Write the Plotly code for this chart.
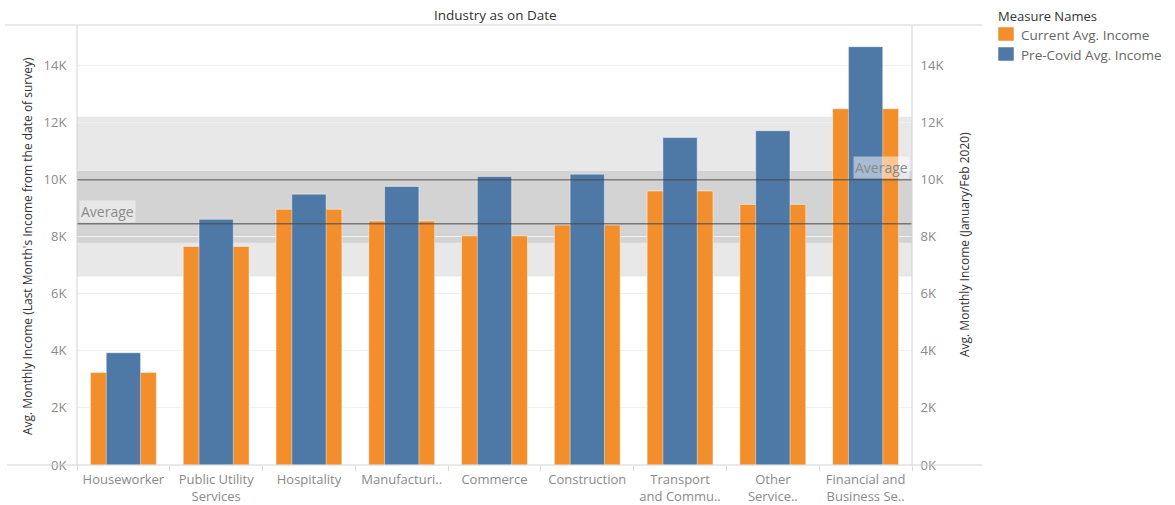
import numpy as np
import plotly.graph_objects as go

# Industries and their average monthly incomes
industries = [
    "Houseworker", "Public Utility<br>Services", "Hospitality", "Manufacturi..",
    "Commerce", "Construction", "Transport<br>and Commu..", "Other<br>Service..",
    "Financial and<br>Business Se..",
]
current_income = [3240, 7650, 8950, 8540, 8020, 8400, 9590, 9120, 12470]
precovid_income = [3930, 8600, 9480, 9750, 10100, 10180, 11460, 11700, 14640]
y_tickvals = [0, 2000, 4000, 6000, 8000, 10000, 12000, 14000]
y_ticktext = ["0K", "2K", "4K", "6K", "8K", "10K", "12K", "14K"]

ORANGE = "#F28E2B"
BLUE = "#4E79A7"
FONT = "Open Sans"
GREY_TXT = "#8a8a8a"
DARK_TXT = "#333333"

W, H = 1175, 505
L, R, T, B = 77, 912, 25, 465
Y_MAX = 15400


def px_x(px):
    return (px - L) / (R - L)


def px_y(py):
    return (B - py) / (B - T)


def mean_ci(vals, t=2.306):
    a = np.asarray(vals, dtype=float)
    m = a.mean()
    half = t * a.std(ddof=1) / np.sqrt(len(a))
    return m, m - half, m + half


cur_avg, cur_lo, cur_hi = mean_ci(current_income)
pre_avg, pre_lo, pre_hi = mean_ci(precovid_income)

fig = go.Figure()
fig.add_trace(go.Bar(
    x=industries, y=current_income, name="Current Avg. Income",
    marker=dict(color=ORANGE, line=dict(color="rgba(255,255,255,0.45)", width=1)),
    width=0.71, yaxis="y",
))
fig.add_trace(go.Bar(
    x=industries, y=precovid_income, name="Pre-Covid Avg. Income",
    marker=dict(color=BLUE, line=dict(color="rgba(255,255,255,0.45)", width=1)),
    width=0.37, yaxis="y2",
))

shapes = []
# 95% confidence bands behind the bars
shapes.append(dict(type="rect", xref="paper", yref="y", x0=0, x1=1, y0=cur_lo, y1=cur_hi,
                   fillcolor="rgba(0,0,0,0.09)", line=dict(width=0), layer="below"))
shapes.append(dict(type="rect", xref="paper", yref="y2", x0=0, x1=1, y0=pre_lo, y1=pre_hi,
                   fillcolor="rgba(0,0,0,0.09)", line=dict(width=0), layer="below"))
# average lines
shapes.append(dict(type="line", xref="paper", yref="y", x0=0, x1=1, y0=cur_avg, y1=cur_avg,
                   line=dict(color="rgba(70,70,70,0.65)", width=1.6), layer="above"))
shapes.append(dict(type="line", xref="paper", yref="y2", x0=0, x1=1, y0=pre_avg, y1=pre_avg,
                   line=dict(color="rgba(70,70,70,0.65)", width=1.6), layer="above"))
# frame lines
frame = "#d3d3d3"
shapes.append(dict(type="line", xref="paper", yref="paper", x0=px_x(5), x1=px_x(982), y0=1, y1=1,
                   line=dict(color=frame, width=1)))
shapes.append(dict(type="line", xref="paper", yref="paper", x0=px_x(7), x1=px_x(982), y0=0, y1=0,
                   line=dict(color=frame, width=1)))
shapes.append(dict(type="line", xref="paper", yref="paper", x0=0, x1=0, y0=0, y1=1,
                   line=dict(color=frame, width=1)))
shapes.append(dict(type="line", xref="paper", yref="paper", x0=1, x1=1, y0=0, y1=1,
                   line=dict(color=frame, width=1)))
# legend swatches
for i, col in enumerate([ORANGE, BLUE]):
    top = 27 + i * 20
    shapes.append(dict(type="rect", xref="paper", yref="paper",
                       x0=px_x(998), x1=px_x(1014), y0=px_y(top + 14), y1=px_y(top),
                       fillcolor=col, line=dict(color="rgba(255,255,255,0.5)", width=1)))

annotations = [
    dict(text="Industry as on Date", xref="paper", yref="paper", x=px_x(495), y=px_y(15),
         xanchor="center", yanchor="middle",
         showarrow=False, font=dict(family=FONT, size=13.5, color=DARK_TXT)),
    dict(text="Avg. Monthly Income (Last Month's Income from the date of survey)",
         xref="paper", yref="paper", x=px_x(28), y=px_y(246), textangle=-90,
         xanchor="center", yanchor="middle",
         showarrow=False, font=dict(family=FONT, size=12, color=DARK_TXT)),
    dict(text="Avg. Monthly Income (January/Feb 2020)",
         xref="paper", yref="paper", x=px_x(965), y=px_y(244), textangle=-90,
         xanchor="center", yanchor="middle",
         showarrow=False, font=dict(family=FONT, size=12, color=DARK_TXT)),
    dict(text="Average", xref="paper", yref="y", x=0.002, y=cur_avg, xanchor="left", yanchor="bottom",
         yshift=1, showarrow=False, bgcolor="rgba(255,255,255,0.45)", borderpad=1,
         font=dict(family=FONT, size=14, color=GREY_TXT)),
    dict(text="Average", xref="paper", yref="y2", x=0.998, y=pre_avg, xanchor="right", yanchor="bottom",
         yshift=1, showarrow=False, bgcolor="rgba(255,255,255,0.5)", borderpad=1,
         font=dict(family=FONT, size=14, color=GREY_TXT)),
    dict(text="Measure Names", xref="paper", yref="paper", x=px_x(996), y=px_y(16),
         xanchor="left", yanchor="middle", showarrow=False,
         font=dict(family=FONT, size=13, color=DARK_TXT)),
]
for i, name in enumerate(["Current Avg. Income", "Pre-Covid Avg. Income"]):
    annotations.append(dict(text=name, xref="paper", yref="paper", x=px_x(1019), y=px_y(35 + i * 20),
                            xanchor="left", yanchor="middle", showarrow=False,
                            font=dict(family=FONT, size=13.5, color="#666666")))

fig.update_layout(
    width=W, height=H,
    margin=dict(l=L, r=W - R, t=T, b=H - B, pad=0, autoexpand=False),
    paper_bgcolor="white", plot_bgcolor="white",
    barmode="overlay", showlegend=False,
    font=dict(family=FONT, color=GREY_TXT),
    xaxis=dict(type="category", range=[-0.5, 8.5], showgrid=False, zeroline=False, showline=False,
               ticks="outside", tickson="boundaries", ticklen=5, tickcolor="#dcdcdc",
               ticklabelstandoff=5, automargin=False,
               tickfont=dict(family=FONT, size=13, color=GREY_TXT)),
    yaxis=dict(range=[0, Y_MAX], tickvals=y_tickvals, ticktext=y_ticktext, automargin=False,
               showgrid=True, gridcolor="#f0f0f0", gridwidth=1, zeroline=False, showline=False,
               ticks="outside", ticklen=7, tickcolor="rgba(0,0,0,0)",
               tickfont=dict(family=FONT, size=13, color=GREY_TXT)),
    yaxis2=dict(range=[0, Y_MAX], tickvals=y_tickvals, ticktext=y_ticktext, overlaying="y",
                side="right", showgrid=False, zeroline=False, showline=False, automargin=False,
                ticks="outside", ticklen=5, tickcolor="rgba(0,0,0,0)",
                tickfont=dict(family=FONT, size=13, color=GREY_TXT)),
    shapes=shapes, annotations=annotations,
)

fig.write_html("out.html")
